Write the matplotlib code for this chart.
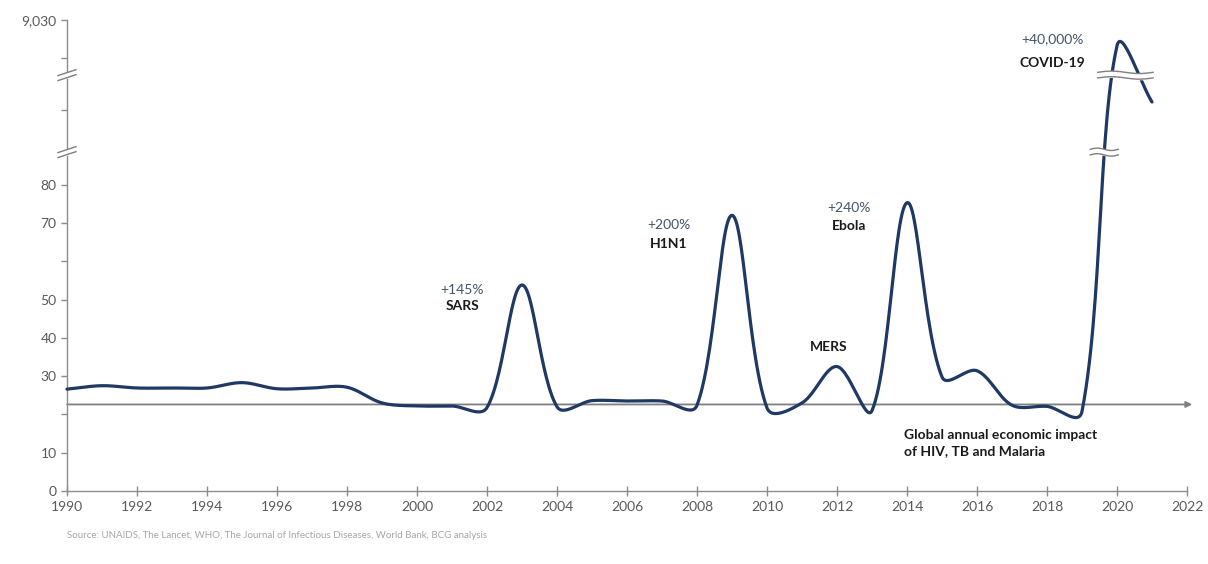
import numpy as np
import matplotlib
matplotlib.use('Agg')
import matplotlib.pyplot as plt
from matplotlib.transforms import IdentityTransform

# yearly economic impact (index)
years = list(range(1990, 2022))
impact = [26.6, 27.5, 26.9, 26.9, 26.9, 28.3, 26.7, 26.9, 27.1, 23.0,
          22.2, 22.2, 21.8, 53.8, 22.0, 23.6, 23.5, 23.5, 22.4, 72.0,
          21.7, 23.0, 32.5, 21.0, 75.3, 29.8, 31.4, 22.4, 22.1, 20.8,
          7200.0, 3230.0]
baseline = 22.6  # HIV, TB and Malaria

x_ticks = list(range(1990, 2023, 2))
y_ticks = [0, 10, 20, 30, 40, 50, 60, 70, 80, 2650, 6350, 9030]
y_labels = ['0', '10', '', '30', '40', '50', '', '70', '80', '', '', '9,030']
y_breaks = [88.5, 5130]

# (x, y, text, colour, bold)
notes = [
    (2001.3, 52.5, '+145%', '#44546A', False),
    (2001.3, 48.3, 'SARS', '#1a1a1a', True),
    (2007.2, 69.5, '+200%', '#44546A', False),
    (2007.2, 64.6, 'H1N1', '#1a1a1a', True),
    (2012.35, 73.9, '+240%', '#44546A', False),
    (2012.35, 69.2, 'Ebola', '#1a1a1a', True),
    (2011.75, 37.6, 'MERS', '#1a1a1a', True),
    (2018.15, 7690, '+40,000%', '#44546A', False),
    (2018.15, 5990, 'COVID-19', '#1a1a1a', True),
]
source = 'Source: UNAIDS, The Lancet, WHO, The Journal of Infectious Diseases, World Bank, BCG analysis'

plt.rcParams['font.family'] = ['Lato', 'DejaVu Sans']

# broken y axis: linear up to 90, then squeezed up to 9,030
brk = 90.0
top = 9030.0
squeeze = 33.0 / (top - brk)


def fwd(v):
    v = np.asarray(v, float)
    return np.where(v <= brk, v, brk + (v - brk) * squeeze)


def inv(s):
    s = np.asarray(s, float)
    return np.where(s <= brk, s, brk + (s - brk) / squeeze)


fig = plt.figure(figsize=(12.08, 5.64), dpi=100)
ax = fig.add_axes([67 / 1208, 73 / 564, 1120 / 1208, 471 / 564])
ax.set_yscale('function', functions=(fwd, inv))
ax.set_xlim(1990, 2022)
ax.set_ylim(0, top)

for side in ['top', 'right']:
    ax.spines[side].set_visible(False)
for side in ['left', 'bottom']:
    ax.spines[side].set_color('#8c8c8c')
    ax.spines[side].set_linewidth(1.0)

ax.set_xticks(x_ticks)
ax.set_xticklabels([str(t) for t in x_ticks])
ax.set_yticks(y_ticks)
ax.set_yticklabels(y_labels)
ax.yaxis.set_minor_locator(matplotlib.ticker.NullLocator())
ax.tick_params(axis='both', colors='#8c8c8c', labelcolor='#595959', labelsize=10, length=4, width=1)
ax.tick_params(axis='x', direction='inout', length=7, pad=4)


# smooth line like Excel: bezier through the points, built in pixel space
def smooth(px, k=0.8):
    n = len(px)
    t = np.linspace(0, 1, 30)[1:, None]
    out = [px[:1]]
    for i in range(n - 1):
        p0 = px[i - 1] if i > 0 else px[i]
        p1, p2 = px[i], px[i + 1]
        p3 = px[i + 2] if i + 2 < n else px[i + 1]
        d0 = np.hypot(*(p1 - p0)) ** k
        d1 = np.hypot(*(p2 - p1)) ** k
        d2 = np.hypot(*(p3 - p2)) ** k
        c1 = p1 + (p2 - p0) * d1 / (d0 + d1) / 3
        c2 = p2 - (p3 - p1) * d1 / (d1 + d2) / 3
        seg = (1 - t) ** 3 * p1 + 3 * (1 - t) ** 2 * t * c1 + 3 * (1 - t) * t ** 2 * c2 + t ** 3 * p2
        out.append(seg)
    return np.vstack(out)


pts = ax.transData.transform(np.column_stack([years, impact]))
curve_px = smooth(pts)
curve = ax.transData.inverted().transform(curve_px)

ax.annotate('', xy=(2022.15, baseline), xytext=(1990, baseline),
            arrowprops=dict(arrowstyle='-|>', color='#7f7f7f', lw=1.3, mutation_scale=9,
                            shrinkA=0, shrinkB=0),
            annotation_clip=False, zorder=2)
ax.plot(curve[:, 0], curve[:, 1], color='#1F3864', lw=2.3, solid_capstyle='round', zorder=3, clip_on=False)


# break marks, drawn in pixels
def wave(x0, x1, y, amp):
    xs = np.linspace(x0, x1, 40)
    return xs, y + amp * np.sin((xs - x0) / (x1 - x0) * 2 * np.pi)


ident = IdentityTransform()
for b in y_breaks:
    bx, by = ax.transData.transform((1990, b))
    xs = np.array([bx - 9, bx + 9])
    lo = by - 2.5 + (xs - bx) * 0.33
    hi = by + 2.5 + (xs - bx) * 0.33
    ax.fill_between(xs, lo, hi, color='white', transform=ident, zorder=5, clip_on=False)
    ax.plot(xs, lo, color='#7f7f7f', lw=1, transform=ident, zorder=6, clip_on=False)
    ax.plot(xs, hi, color='#7f7f7f', lw=1, transform=ident, zorder=6, clip_on=False)

    # where the curve crosses this break
    yy = curve_px[:, 1] - by
    cross = []
    for i in range(len(yy) - 1):
        if yy[i] * yy[i + 1] < 0:
            f = yy[i] / (yy[i] - yy[i + 1])
            cross.append(curve_px[i, 0] + f * (curve_px[i + 1, 0] - curve_px[i, 0]))
    if cross:
        x0, x1 = min(cross) - 14, max(cross) + 14
        xs, ylo = wave(x0, x1, by - 2.8, 1.2)
        _, yhi = wave(x0, x1, by + 2.8, 1.2)
        ax.fill_between(xs, ylo, yhi, color='white', transform=ident, zorder=5, clip_on=False)
        ax.plot(xs, ylo, color='#7f7f7f', lw=1, transform=ident, zorder=6, clip_on=False)
        ax.plot(xs, yhi, color='#7f7f7f', lw=1, transform=ident, zorder=6, clip_on=False)

for x, y, txt, col, bold in notes:
    ax.text(x, y, txt, color=col, fontsize=10, ha='center', va='center',
            fontweight='bold' if bold else 'normal', zorder=7)

ax.text(2013.9, 12.6, 'Global annual economic impact\nof HIV, TB and Malaria', fontsize=10,
        fontweight='bold', color='#1a1a1a', ha='left', va='center', linespacing=1.45)

fig.text(67 / 1208, 1 - 535 / 564, source, fontsize=7, color='#a6a6a6', ha='left', va='center')

fig.savefig('out.png', dpi=100)
